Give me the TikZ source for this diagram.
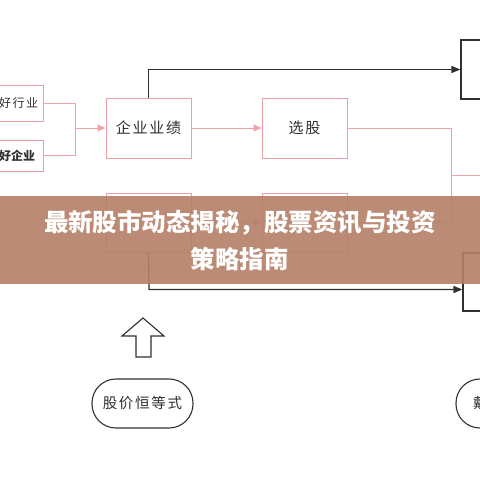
\documentclass[tikz,border=0pt]{standalone}
\usepackage{fontspec}
\newfontfamily\cjk{Noto Sans CJK SC}
\newfontfamily\cjksp{Noto Sans CJK SC}[LetterSpace=12]
\usetikzlibrary{arrows.meta}
\definecolor{pinkline}{HTML}{F0A2A8}
\definecolor{pinkbox}{HTML}{EE9EA6}
\definecolor{ink}{HTML}{303030}
\definecolor{banner}{RGB}{181,127,102}
\tikzset{
  pbox/.style={draw=pinkbox, line width=1pt, inner sep=0pt, fill=white},
  kbox/.style={draw=ink, line width=1.2pt, inner sep=0pt, fill=white},
  pline/.style={draw=pinkline, line width=1pt},
  parrow/.style={pline, -{Triangle[length=8pt,width=7pt]}},
  karrow/.style={draw=ink, line width=1.2pt, -{Triangle[length=9pt,width=7pt]}},
  pill/.style={draw=ink, line width=1.1pt, rounded corners=24pt, inner sep=0pt, fill=white},
  boxtext/.style={font=\cjksp\fontsize{15}{15}\selectfont, text=ink},
  smalltext/.style={font=\cjksp\fontsize{12}{12}\selectfont, text=ink},
}
\begin{document}
\begin{tikzpicture}[x=1pt,y=-1pt]
\useasboundingbox (0,0) rectangle (480,480);
\clip (0,0) rectangle (480,480);
\fill[white] (0,0) rectangle (480,480);
% left boxes
\node[pbox, minimum width=63pt, minimum height=36pt] (hy) at (11.5,103) {};
\node[smalltext, anchor=west, inner sep=0pt] (hyt) at (-1,103) {好行业};
\node[pbox, minimum width=63pt, minimum height=31pt] (hq) at (11.5,155.5) {};
\node[smalltext, font=\cjk\bfseries\fontsize{12}{12}\selectfont, anchor=west, inner sep=0pt] (hqt) at (-1,155.5) {好企业};
\coordinate (j1) at (75,103);
\coordinate (j2) at (75,155.5);
\coordinate (jm) at (75,128);
% main boxes
\node[pbox, minimum width=85pt, minimum height=60pt, boxtext] (yj) at (148.5,128) {企业业绩};
\node[pbox, minimum width=85pt, minimum height=60pt, boxtext] (xg) at (304.5,128) {选股};
\node[pbox, minimum width=85pt, minimum height=59pt] (ra) at (148.5,222.5) {};
\node[pbox, minimum width=85pt, minimum height=59pt] (rb) at (304.5,222.5) {};
\node[kbox, minimum width=59pt, minimum height=59pt] (tr) at (490.5,69.5) {};
\node[kbox, minimum width=57pt, minimum height=58pt] (br) at (491.5,282) {};
% pink connectors
\draw[pline] (hy.east) -- (j1) -- (j2) -- (hq.east);
\draw[parrow] (jm) -- (yj.west);
\draw[parrow] (yj.east) -- (xg.west);
\draw[parrow] (ra.east) -- (rb.west);
\coordinate (v1) at (451,128);
\coordinate (v2) at (451,175);
\coordinate (v3) at (451,222.5);
\coordinate (vr) at (490,175);
\draw[pline] (xg.east) -- (v1) -- (v3) -- (rb.east);
\draw[pline] (v2) -- (vr);
% black connectors
\draw[karrow] (yj.north) |- (tr.west);
\coordinate (b1) at (149,289.5);
\draw[karrow] (ra.south) -- (b1) -- (br.west |- b1);
% block arrow
\draw[ink, line width=1.1pt, line join=miter, fill=white]
  (143,318) -- (164,336) -- (151,336) -- (151,357) -- (136,357) -- (136,336) -- (122,336) -- cycle;
% pills
\node[pill, minimum width=101pt, minimum height=49pt, font=\cjksp\fontsize{14.5}{14.5}\selectfont, text=ink] (gj) at (142.5,403.5) {股价恒等式};
\node[pill, minimum width=101pt, minimum height=49pt] (dw) at (506.5,403.5) {};
\node[anchor=west, inner sep=0pt, font=\cjksp\fontsize{14.5}{14.5}\selectfont, text=ink] (dwt) at (473,403.5) {戴维斯双击};
% banner
\fill[banner, fill opacity=0.9] (0,196) rectangle (480,284);
\node[align=center, text=white, font=\cjk\bfseries\fontsize{24.5}{37}\selectfont, inner sep=0pt] (title) at (240,240.5) {最新股市动态揭秘，股票资讯与投资\\策略指南};
\end{tikzpicture}
\end{document}
